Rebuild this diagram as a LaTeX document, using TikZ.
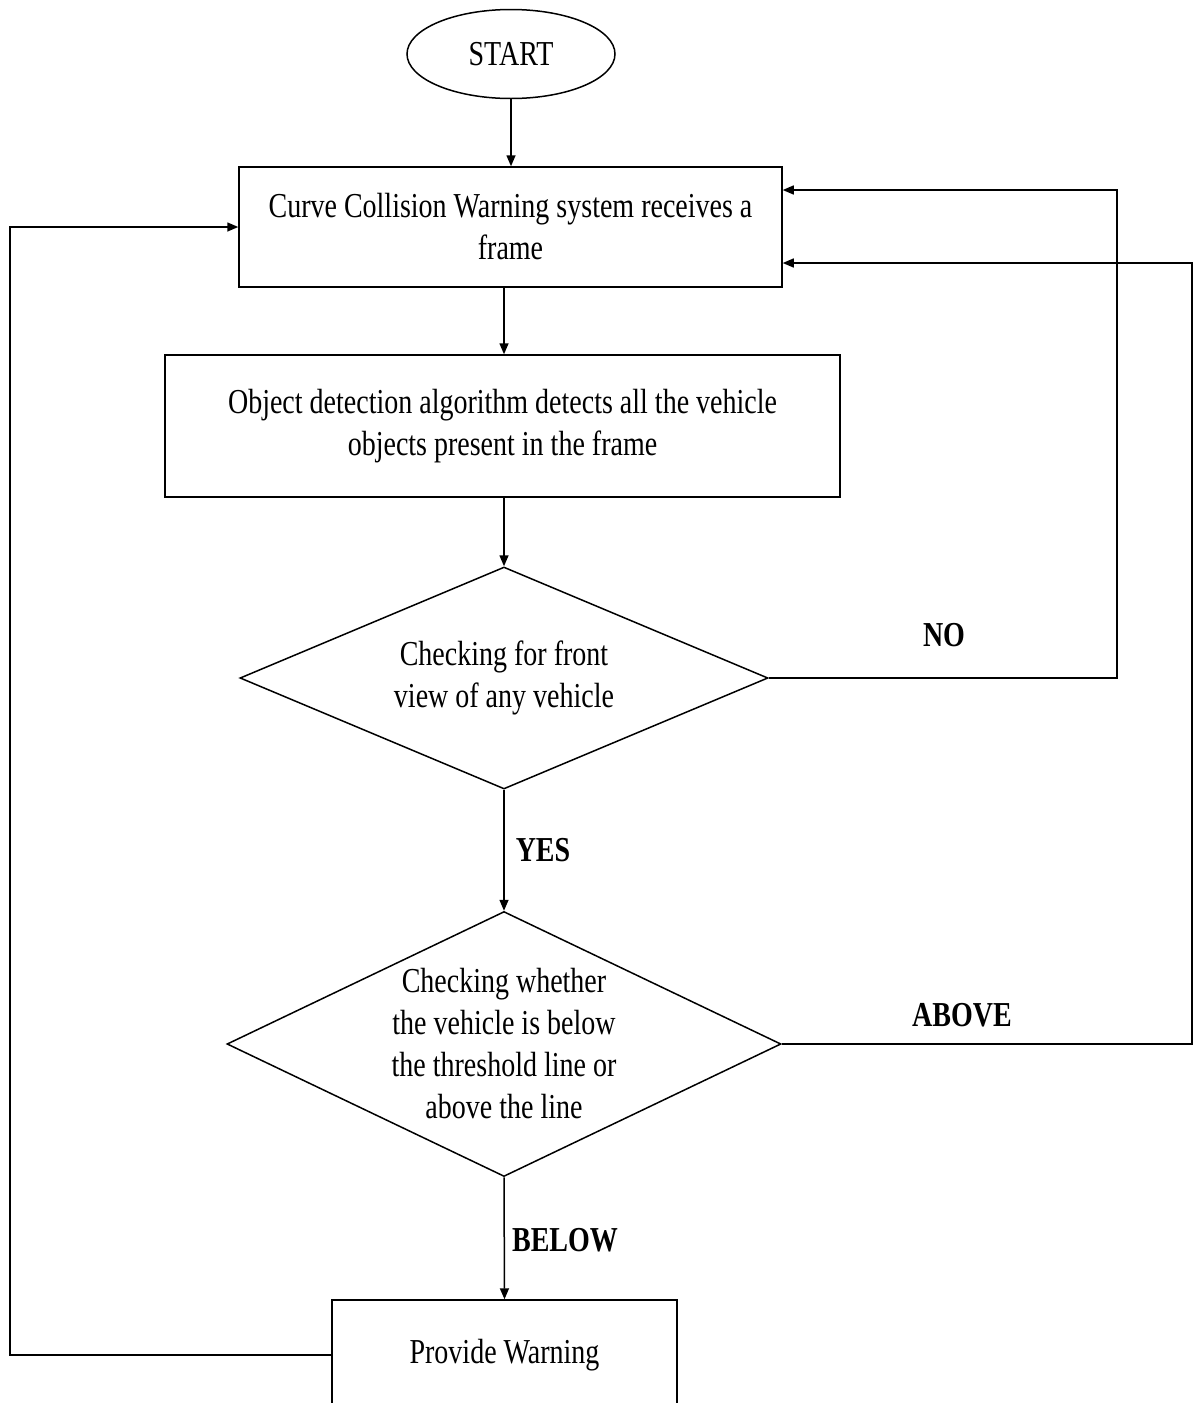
\documentclass[tikz,border=0pt]{standalone}
\usepackage{fontspec}
\setmainfont[FakeStretch=0.8]{Liberation Serif}
\usetikzlibrary{shapes.geometric,arrows.meta}

\begin{document}
\begin{tikzpicture}[x=1pt, y=-1pt, line width=1.5pt, line join=miter,
    font=\fontsize{35}{42}\selectfont,
    >={Triangle[length=11pt,width=9pt]},
    process/.style={draw, rectangle, inner sep=0pt, align=center},
    decision/.style={draw, diamond, inner sep=0pt, align=center},
    answer/.style={font=\fontsize{35}{42}\selectfont\bfseries}]

    \useasboundingbox (0,0) rectangle (1195,1403);

    \node[draw, ellipse, minimum width=208pt, minimum height=89pt] (start) at (511,54) {START};
    \node[process, minimum width=543pt, minimum height=120pt] (frame) at (510.5,227)
        {Curve Collision Warning system receives a\\frame};
    \node[process, minimum width=675pt, minimum height=142pt] (detect) at (502.5,426)
        {Object detection algorithm detects all the vehicle\\objects present in the frame};
    \node[decision, minimum width=528pt, minimum height=222pt, aspect=2.38] (front) at (504,678)
        {Checking for front\\view of any vehicle};
    \node[decision, minimum width=554pt, minimum height=265pt, aspect=2.09] (threshold) at (504,1044)
        {Checking whether\\the vehicle is below\\the threshold line or\\above the line};
    \node[process, minimum width=345pt, minimum height=110pt] (warn) at (504.5,1355) {Provide Warning};

    \coordinate (noturn) at (1117,678);
    \coordinate (aboveturn) at (1192,1044);
    \coordinate (loopturn) at (10,1355);

    \draw[->] (start) -- (start |- frame.north);
    \draw[->] (frame.south -| front.north) -- (detect.north -| front.north);
    \draw[->] (detect.south -| front.north) -- (front.north);
    \draw[->] (front.south) -- (threshold.north);
    \draw[->] (threshold.south) -- (warn.north);

    % back to the frame
    \draw[->] (front.east) -- (noturn) |- ([yshift=37pt]frame.east);
    \draw[->] (threshold.east) -- (aboveturn) |- ([yshift=-36pt]frame.east);
    \draw[->] (warn.west) -- (loopturn) |- (frame.west);

    \node[answer] (no) at (944,635) {NO};
    \node[answer] (yes) at (543,850) {YES};
    \node[answer] (above) at (962,1015) {ABOVE};
    \node[answer] (below) at (565,1240) {BELOW};
\end{tikzpicture}
\end{document}
